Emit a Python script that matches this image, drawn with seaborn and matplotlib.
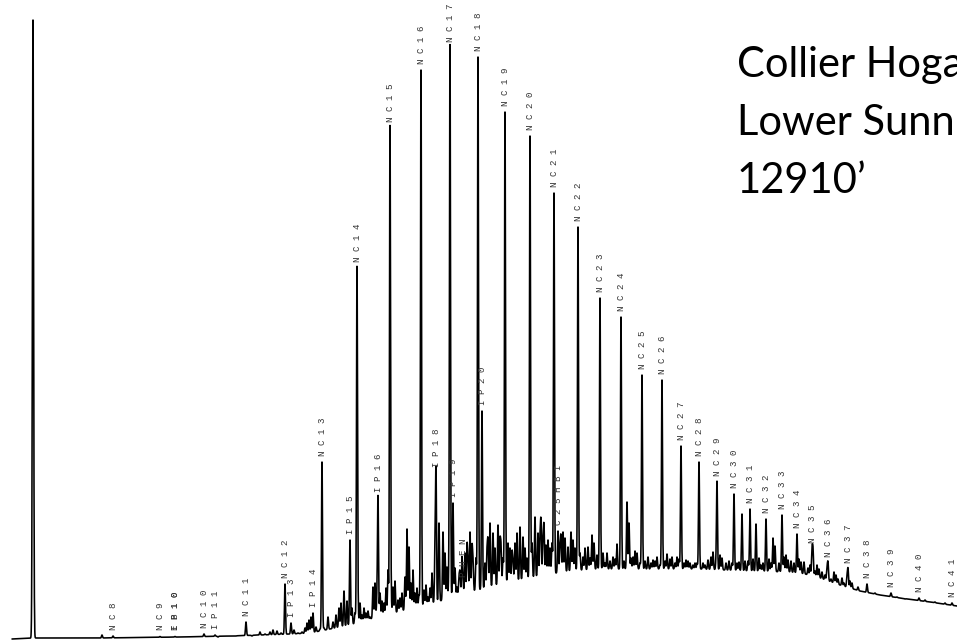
import numpy as np
import pandas as pd
import matplotlib
matplotlib.use("Agg")
import matplotlib.pyplot as plt
import seaborn as sns

# ---------------- data (x = retention position, y = detector response) ----------------
baseline_rt = [12, 33, 100, 180, 230, 260, 290, 310, 330, 350, 370, 390, 410, 430, 450,
               470, 490, 510, 530, 550, 570, 600, 650, 700, 750, 790, 805, 820, 840, 860,
               880, 900, 930, 957]
baseline_resp = [4, 5, 5, 6, 7, 8, 9, 10, 14, 18, 24, 29, 34, 39, 45,
                 51, 56, 61, 65, 69, 72, 74, 74, 74, 72, 71, 69, 65, 58, 52,
                 48, 45, 41, 37]

solvent_rt = [33]
solvent_apex = [623]

peak_names = ["NC8", "NC9", "IP10", "NC10", "IP11", "NC11", "NC12", "IP13", "IP14", "NC13",
              "IP15", "NC14", "IP16", "NC15", "NC16", "IP18", "NC17", "IP19", "PHEN", "NC18",
              "IP20", "NC19", "NC20", "NC21", "C25HBI", "NC22", "NC23", "NC24", "NC25", "NC26",
              "NC27", "NC28", "NC29", "NC30", "NC31", "NC32", "NC33", "NC34", "NC35", "NC36",
              "NC37", "NC38", "NC39", "NC40", "NC41"]
peak_rt = [113, 160, 175, 204, 215, 246, 285, 291, 313, 322,
           350, 357, 378, 390, 421, 436, 450, 453, 463, 478,
           482, 505, 530, 554, 558, 578, 600, 621, 642, 662,
           681, 699, 717, 734, 750, 766, 782, 797, 812, 828,
           848, 867, 891, 919, 952]
peak_apex = [7, 6.5, 6.5, 9, 8, 21, 59, 20, 30, 181,
             103, 375, 145, 515, 573, 170, 595, 140, 60, 586,
             232, 531, 507, 450, 112, 416, 345, 326, 268, 263,
             197, 181, 161, 149, 134, 124, 128, 109, 94, 80,
             74, 59, 50, 45, 40]
overlap_name = "EB10"
overlap_rt = 175

minor_rt = [102, 218, 230, 236, 252, 260, 265, 270, 273, 277, 281, 294, 298, 302, 305, 307,
            309, 311, 316, 320, 324, 328, 333, 339, 341, 344, 347, 352, 358, 362, 366, 370,
            373, 375, 380, 384, 388, 393, 398, 402, 405, 407, 409, 413, 417, 424, 428, 432,
            435, 439, 443, 447, 457, 460, 462, 465, 467, 470, 473, 487, 490, 493, 498, 501,
            508, 512, 515, 520, 523, 527, 535, 540, 543, 546, 548, 550, 561, 563, 568, 571,
            573, 583, 588, 592, 594, 603, 607, 613, 617, 627, 629, 633, 637, 648, 653, 657,
            667, 672, 677, 686, 690, 695, 705, 708, 713, 722, 726, 739, 742, 745, 756, 759,
            763, 773, 775, 786, 788, 791, 801, 804, 813, 817, 822, 827, 834, 838, 842, 847,
            852, 858, 875, 897, 905, 925, 935, 945,
            336, 355, 360, 364, 368, 377, 382, 386, 391, 395, 400, 411, 415, 419, 426, 430,
            445, 449, 455, 459, 468, 472, 476, 485, 488, 495, 500, 503, 510, 513, 517, 525,
            532, 538, 541, 544, 552, 560, 565, 575, 580, 585, 590, 597, 605, 610, 615, 624,
            631, 635, 640, 645, 651, 655, 660, 665, 670, 675, 679, 684, 688, 693, 697, 703,
            711, 716, 720, 729, 732, 737, 748, 753, 761, 769, 771, 779, 784, 794, 799, 808,
            810, 815, 819, 825, 831, 836, 844, 850]
minor_apex = [8, 6, 7, 7, 7, 11, 9, 11, 13, 12, 10, 13, 10, 11, 15, 20,
              23, 26, 16, 14, 15, 26, 21, 35, 40, 52, 42, 35, 33, 28, 30, 26,
              56, 60, 50, 40, 73, 56, 43, 50, 66, 114, 96, 73, 55, 53, 46, 70,
              91, 120, 111, 76, 56, 70, 85, 90, 96, 111, 80, 90, 120, 110, 118, 95,
              100, 90, 100, 116, 106, 85, 126, 103, 101, 98, 103, 95, 105, 111, 96, 111,
              103, 86, 96, 108, 100, 90, 90, 86, 99, 141, 120, 86, 90, 86, 83, 86,
              89, 86, 86, 83, 80, 80, 78, 83, 91, 85, 80, 81, 129, 82, 119, 85,
              80, 105, 97, 88, 83, 82, 81, 81, 93, 78, 71, 75, 71, 64, 65, 66,
              60, 56, 50, 46, 44, 43, 41, 40,
              28, 30, 40, 35, 32, 45, 42, 55, 48, 62, 45, 60, 50, 48, 58, 55,
              90, 70, 75, 65, 80, 95, 85, 80, 100, 95, 100, 85, 95, 80, 110, 95,
              100, 110, 120, 115, 100, 95, 105, 95, 90, 95, 85, 88, 80, 82, 84, 82,
              85, 92, 80, 82, 80, 82, 78, 82, 84, 80, 84, 80, 82, 78, 80, 80,
              86, 80, 88, 82, 80, 80, 82, 84, 78, 84, 80, 80, 86, 80, 84, 75,
              78, 72, 74, 68, 64, 68, 60, 62]

# ---------------- build the trace from the peak table ----------------
x = np.arange(12, 957.01, 0.2)
signal = np.interp(x, baseline_rt, baseline_resp).astype(float)


def add_peaks(rts, apexes, sigma):
    global signal
    for p, a in zip(rts, apexes):
        h = a - np.interp(p, baseline_rt, baseline_resp)
        signal = signal + h * np.exp(-0.5 * ((x - p) / sigma) ** 2)


add_peaks(solvent_rt, solvent_apex, 0.6)
add_peaks(peak_rt, peak_apex, 0.5)
add_peaks(minor_rt, minor_apex, 0.5)

df = pd.DataFrame({"rt": x, "response": signal})

# ---------------- draw ----------------
sns.set_theme(style="white")
fig = plt.figure(figsize=(9.57, 6.43), dpi=100)
ax = fig.add_axes([0, 0, 1, 1])
sns.lineplot(data=df, x="rt", y="response", color="black", linewidth=1.15, ax=ax,
             estimator=None, sort=False)
ax.set_xlim(0, 957)
ax.set_ylim(0, 643)
ax.axis("off")


def spaced(s):
    return " ".join(s)


lab_kw = dict(rotation=90, ha="center", va="bottom", fontsize=6.6,
              family="Liberation Mono", color="#333333", textcoords="offset points",
              xytext=(0.7, 4.5), zorder=5)
for n, p, a in zip(peak_names, peak_rt, peak_apex):
    ax.annotate(spaced(n), xy=(p, a), **lab_kw)
ax.annotate(spaced(overlap_name), xy=(overlap_rt, peak_apex[peak_names.index("IP10")]), **lab_kw)

title_lines = ["Collier Hogan", "Lower Sunniland", "12910\u2019"]
for i, line in enumerate(title_lines):
    fig.text(737 / 957, 1 - (77 + 58 * i) / 643, line, fontsize=30, family="Lato",
             color="black", ha="left", va="baseline")

fig.savefig("out.png", dpi=100)
